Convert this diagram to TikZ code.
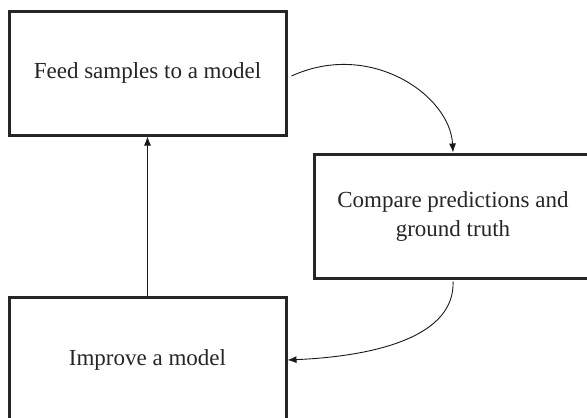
\documentclass[tikz,border=0pt]{standalone}
\usepackage{fontspec}
\setmainfont{Liberation Serif}
\usetikzlibrary{arrows.meta}
\begin{document}
\begin{tikzpicture}[x=1pt,y=-1pt,
  box/.style={draw=black!85, line width=3pt, fill=white, inner sep=0pt, align=center,
    font=\fontsize{23}{29}\selectfont, text=black!85},
  conn/.style={draw=black!90, line width=0.9pt, -{Latex[length=9pt,width=7pt]}}]
\useasboundingbox (0,0) rectangle (587,418);
\clip (0,0) rectangle (587,418);
\fill[white] (0,0) rectangle (587,418);
\node[box, minimum width=277pt, minimum height=124pt] (b1) at (147.5,73) {Feed samples to a model};
\node[box, minimum width=278pt, minimum height=124pt] (b2) at (453,216) {Compare predictions and\\ground truth};
\node[box, minimum width=277pt, minimum height=126pt] (b3) at (147.5,360) {Improve a model};
\coordinate (s1) at ([xshift=4pt,yshift=-3pt]b1.east);
\draw[conn] (s1) .. controls (370,40) and (450,95) .. (b2.north);
\draw[conn] (b3.north) -- (b1.south);
\draw[conn, shorten <=2pt] (b2.south) .. controls (455,335) and (380,356) .. (b3.east);
\end{tikzpicture}
\end{document}
